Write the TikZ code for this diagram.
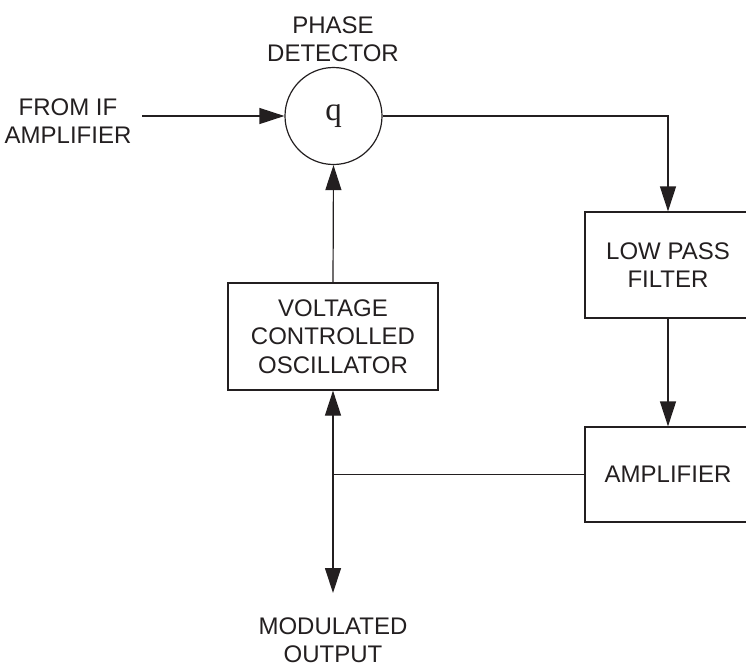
\documentclass[tikz,border=0pt]{standalone}
\usepackage{fontspec}
\setmainfont{Liberation Sans}
\newfontfamily\serifq{Liberation Serif}
\usetikzlibrary{arrows.meta}
\definecolor{ink}{HTML}{231F20}
\begin{document}
\begin{tikzpicture}[x=1pt,y=-1pt, line width=1.2pt, draw=ink, text=ink,
  txt/.style={align=center, inner sep=0pt, font=\fontsize{24}{28.5}\selectfont},
  box/.style={txt, draw, rectangle},
  arr/.style={-{Triangle[length=25pt,width=16pt]}}]
\useasboundingbox (0,0) rectangle (746,667);
\clip (0,0) rectangle (746,667);
\node[draw, circle, minimum size=97pt, inner sep=0pt] (pd) at (333.5,116) {\serifq\fontsize{33}{33}\selectfont q};
\node[box, minimum width=210pt, minimum height=107pt] (vco) at (333,336.5) {VOLTAGE\\CONTROLLED\\OSCILLATOR};
\node[box, minimum width=166pt, minimum height=106pt] (lpf) at (668,265) {LOW PASS\\FILTER};
\node[box, minimum width=166pt, minimum height=95pt] (amp) at (668,474.5) {AMPLIFIER};
\node[txt] (pdl) at (333,39) {PHASE\\DETECTOR};
\node[txt] (ifl) at (68,121) {FROM IF\\AMPLIFIER};
\node[txt] (mol) at (333,640) {MODULATED\\OUTPUT};
\coordinate (in) at (142,116);
\coordinate (j) at (333,474.5);
\coordinate (out) at (333,593);
\draw[arr] (in) -- (pd.west);
\draw[arr] (pd.east) -| (lpf.north);
\draw[arr] (lpf.south) -- (amp.north);
\draw[arr] (vco.north) -- (pd.south);
\draw (amp.west) -- (j);
\draw[arr] (j) -- (vco.south);
\draw[arr] (j) -- (out);
\end{tikzpicture}
\end{document}
